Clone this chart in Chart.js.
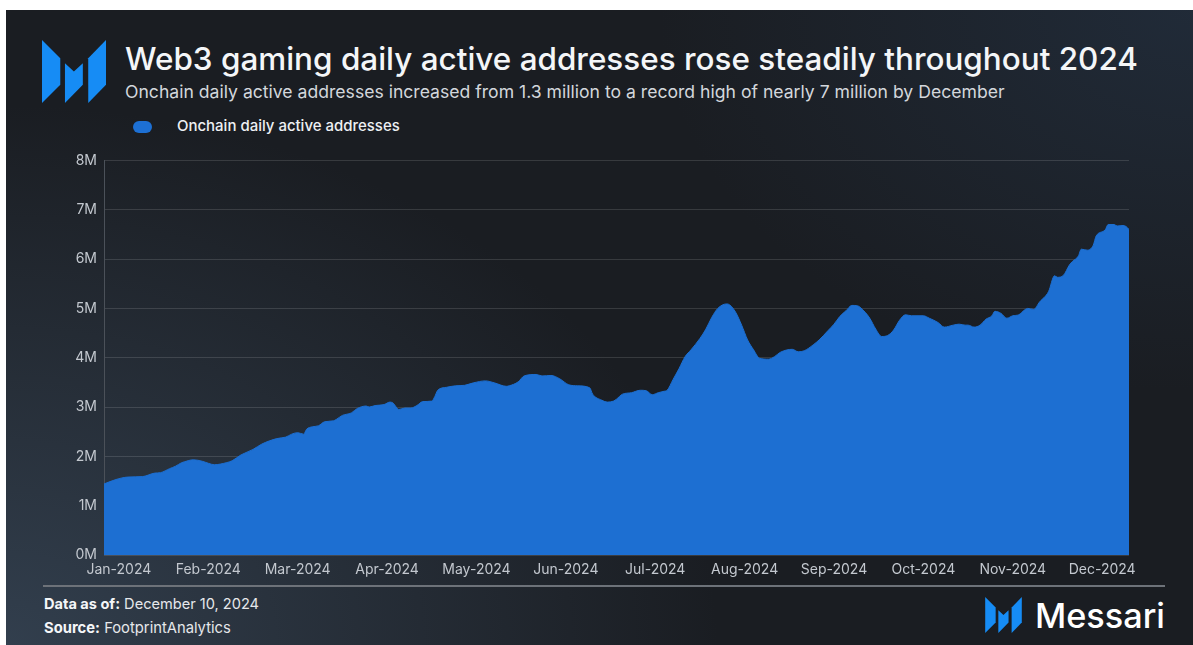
<!DOCTYPE html>
<html>
<head>
<meta charset="utf-8">
<script src="https://cdn.jsdelivr.net/npm/chart.js@4.4.1/dist/chart.umd.min.js"></script>
<style>
  html, body { margin: 0; padding: 0; background: #fff; }
  body { width: 1193px; height: 645px; position: relative; overflow: hidden; font-family: Inter, "Noto Sans", sans-serif; }
  #panel {
    position: absolute; left: 6px; top: 10px; right: 0; bottom: 0;
    background:
      radial-gradient(60% 85% at 0% 100%, rgba(58, 74, 92, 0.75), rgba(58, 74, 92, 0) 100%),
      radial-gradient(45% 60% at 100% 0%, rgba(38, 54, 74, 0.55), rgba(38, 54, 74, 0) 100%),
      #1a1d22;
  }
  .txt { position: absolute; white-space: nowrap; line-height: 1; }
  #title { color: #f4f6f8; font-weight: 500; }
  #subtitle { color: #d3d7dc; font-weight: 400; }
  #legendText { color: #eef0f3; font-weight: 500; }
  #legendBox { position: absolute; left: 133px; top: 121px; width: 19px; height: 12px; border-radius: 6px; background: #1d70d4; }
  .foot { color: #e6e8eb; font-weight: 400; }
  .foot b { font-weight: 700; color: #f4f6f8; }
  #brand { color: #ffffff; font-weight: 500; }
  #rule { position: absolute; left: 43px; top: 585px; width: 1122px; height: 2px; background: #6d7279; }
  #chartBox { position: absolute; left: 0; top: 145px; width: 1193px; height: 440px; }
  svg.logo { position: absolute; }
</style>
</head>
<body>
<div id="panel"></div>

<svg class="logo" style="left:42px;top:40px" width="64" height="63" viewBox="0 0 63 62">
  <polygon fill="#168cf5" points="0,0 18,18 18,44 0,62"/>
  <polygon fill="#168cf5" points="22.6,23 31.4,31 40.2,23 40.2,44 22.6,62"/>
  <polygon fill="#168cf5" points="45.5,18 63,0 63,44 45.5,62"/>
</svg>

<div class="txt" id="title">Web3 gaming daily active addresses rose steadily throughout 2024</div>
<div class="txt" id="subtitle">Onchain daily active addresses increased from 1.3 million to a record high of nearly 7 million by December</div>
<div id="legendBox"></div>
<div class="txt" id="legendText">Onchain daily active addresses</div>

<div id="chartBox"><canvas id="chart"></canvas></div>

<div id="rule"></div>
<div class="txt foot" id="asof"><b>Data as of:</b> December 10, 2024</div>
<div class="txt foot" id="source"><b>Source:</b> FootprintAnalytics</div>

<svg class="logo" style="left:985px;top:597px" width="37" height="36" viewBox="0 0 63 62">
  <polygon fill="#168cf5" points="0,0 18,18 18,44 0,62"/>
  <polygon fill="#168cf5" points="22.6,23 31.4,31 40.2,23 40.2,44 22.6,62"/>
  <polygon fill="#168cf5" points="45.5,18 63,0 63,44 45.5,62"/>
</svg>
<div class="txt" id="brand">Messari</div>

<script>
// day of 2024 (0 = Jan 1, 344 = Dec 10) and daily active addresses in millions
const dayIndex = [
  0, 4, 8, 13, 17, 19, 22, 24, 26, 27, 30, 33, 35, 37, 41, 43, 46, 50, 53, 58,
  61, 63, 65, 67, 68, 70, 72, 74, 77, 78, 80, 83, 85, 88, 89, 91, 94, 96, 97, 99,
  101, 103, 105, 107, 110, 111, 112, 115, 118, 121, 124, 128, 131, 135, 136, 139, 141, 145, 147, 150,
  153, 156, 159, 163, 164, 167, 169, 171, 172, 174, 177, 180, 182, 184, 186, 188, 189, 191, 193, 195,
  197, 200, 202, 204, 206, 209, 210, 212, 214, 216, 218, 220, 223, 225, 227, 231, 233, 235, 238, 240,
  243, 245, 247, 249, 251, 253, 255, 257, 259, 261, 263, 265, 267, 269, 271, 275, 277, 280, 282, 285,
  287, 289, 290, 292, 294, 296, 298, 299, 301, 303, 305, 307, 309, 310, 312, 314, 317, 319, 320, 322,
  324, 325, 327, 328, 330, 332, 333, 336, 337, 339, 340, 342, 343, 344
];
const activeAddressesM = [
  1.44, 1.53, 1.58, 1.59, 1.66, 1.67, 1.75, 1.80, 1.87, 1.89, 1.93, 1.90, 1.86, 1.83, 1.87, 1.91, 2.03, 2.14, 2.25, 2.36,
  2.39, 2.45, 2.48, 2.45, 2.55, 2.60, 2.62, 2.70, 2.72, 2.75, 2.83, 2.88, 2.97, 3.02, 3.00, 3.03, 3.05, 3.10, 3.08, 2.95,
  2.98, 2.98, 3.03, 3.11, 3.12, 3.21, 3.34, 3.40, 3.43, 3.44, 3.49, 3.53, 3.49, 3.42, 3.43, 3.51, 3.63, 3.66, 3.63, 3.64,
  3.57, 3.45, 3.43, 3.39, 3.26, 3.14, 3.10, 3.12, 3.16, 3.26, 3.29, 3.34, 3.33, 3.25, 3.29, 3.32, 3.34, 3.56, 3.78, 4.02,
  4.16, 4.39, 4.58, 4.82, 5.00, 5.09, 5.07, 4.92, 4.66, 4.36, 4.16, 3.99, 3.97, 4.02, 4.11, 4.17, 4.12, 4.14, 4.26, 4.36,
  4.55, 4.68, 4.84, 4.95, 5.06, 5.05, 4.95, 4.80, 4.58, 4.43, 4.45, 4.56, 4.76, 4.87, 4.85, 4.85, 4.80, 4.71, 4.62, 4.66,
  4.68, 4.66, 4.66, 4.62, 4.66, 4.78, 4.85, 4.94, 4.90, 4.80, 4.85, 4.87, 4.97, 5.00, 4.98, 5.13, 5.34, 5.66, 5.63, 5.67,
  5.88, 5.95, 6.06, 6.20, 6.18, 6.28, 6.47, 6.59, 6.70, 6.70, 6.67, 6.68, 6.66, 6.60
];
const tickDays = [5, 35, 65, 95, 125, 155, 185, 215, 245, 275, 305, 335];
const monthLabels = ['Jan-2024', 'Feb-2024', 'Mar-2024', 'Apr-2024', 'May-2024', 'Jun-2024',
                     'Jul-2024', 'Aug-2024', 'Sep-2024', 'Oct-2024', 'Nov-2024', 'Dec-2024'];

// size a text line so it spans a given width, then sit it on a baseline
function place(id, x, baseline, width) {
  const el = document.getElementById(id);
  el.style.fontSize = '100px';
  const w = el.getBoundingClientRect().width;
  const fs = 100 * width / w;
  el.style.fontSize = fs + 'px';
  el.style.left = x + 'px';
  el.style.top = (baseline - 0.863 * fs) + 'px';
}

place('title', 125, 71, 1013);
place('subtitle', 125, 98, 880);
place('legendText', 177, 131, 223);
place('asof', 44, 610, 215);
place('source', 44, 634, 187);
place('brand', 1035, 629, 130);

Chart.defaults.font.family = 'Inter, "Noto Sans", sans-serif';
Chart.defaults.color = '#c3c8cf';

const points = dayIndex.map((d, i) => ({ x: d, y: activeAddressesM[i] }));

new Chart(document.getElementById('chart'), {
  type: 'line',
  data: {
    datasets: [{
      label: 'Onchain daily active addresses',
      data: points,
      fill: 'origin',
      backgroundColor: '#1d6fd2',
      borderColor: '#1d6fd2',
      borderWidth: 1,
      pointRadius: 0,
      cubicInterpolationMode: 'monotone'
    }]
  },
  options: {
    responsive: true,
    maintainAspectRatio: false,
    animation: false,
    layout: { padding: { top: 15, right: 64, left: 0, bottom: 0 } },
    plugins: { legend: { display: false }, tooltip: { enabled: false } },
    scales: {
      x: {
        type: 'linear',
        min: 0,
        max: 344,
        grid: { display: false, drawTicks: false },
        border: { display: false },
        afterBuildTicks: s => { s.ticks = tickDays.map(v => ({ value: v })); },
        afterFit: s => { s.height = 30; },
        ticks: {
          autoSkip: false,
          maxRotation: 0,
          padding: 6,
          font: { size: 14 },
          callback: (v, i) => monthLabels[i]
        }
      },
      y: {
        min: 0,
        max: 8,
        afterFit: s => { s.width = 104; },
        grid: { color: 'rgba(255,255,255,0.13)', drawTicks: false },
        border: { display: true, color: '#4b5159' },
        ticks: {
          stepSize: 1,
          padding: 7,
          font: { size: 14 },
          callback: v => v + 'M'
        }
      }
    }
  }
});
</script>
</body>
</html>
